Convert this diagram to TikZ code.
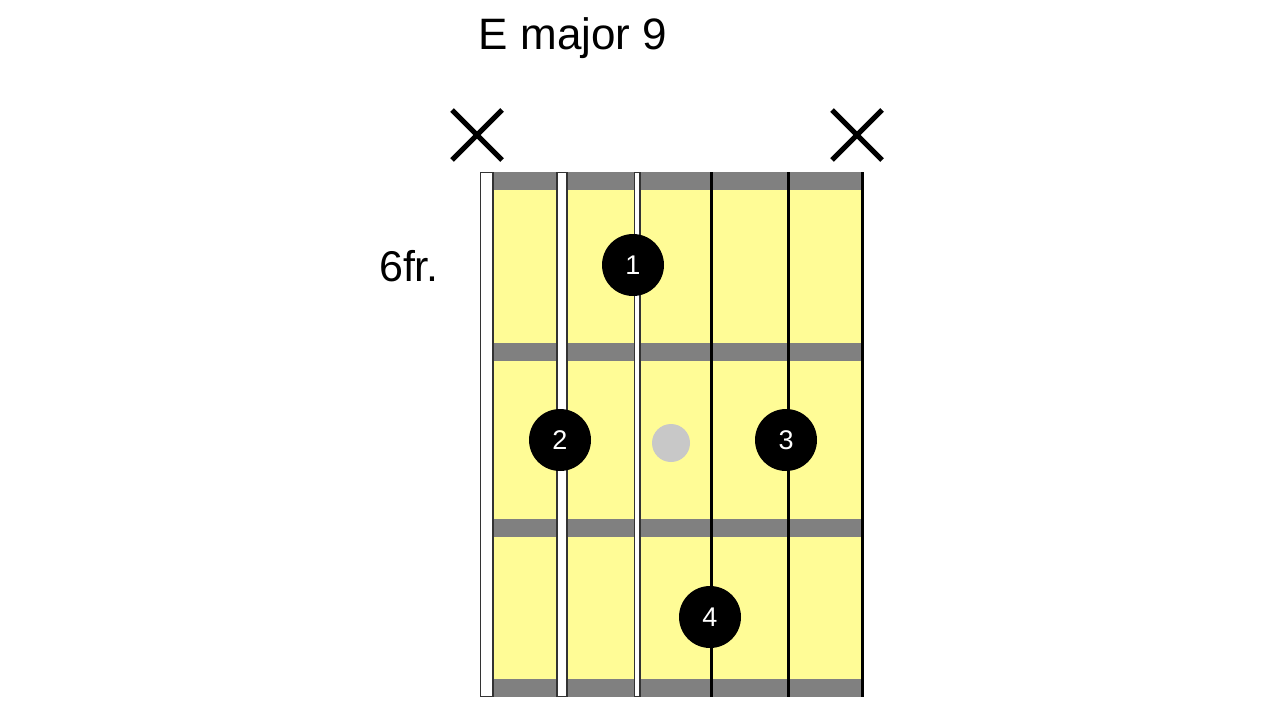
\documentclass[tikz,border=0pt]{standalone}
\usepackage{fontspec}
\setmainfont{Liberation Sans}
\usetikzlibrary{positioning}
\definecolor{neck}{RGB}{255,252,150}
\definecolor{fretgray}{RGB}{128,128,128}
\definecolor{ghost}{RGB}{200,200,200}
\tikzset{
  finger/.style={circle,fill=black,minimum size=62pt,inner sep=0pt,text=white,font=\fontsize{27}{27}\selectfont},
  muted/.style={line width=5pt},
  wound/.style={draw=black!80,line width=1.5pt,fill=white},
}
\begin{document}
\begin{tikzpicture}[x=1pt,y=1pt,yscale=-1]
    \useasboundingbox (0,0) rectangle (1280,720);
    %Shape: neck
    \fill [neck] (487,172) rectangle (863,697);
    %Frets
    \foreach \y in {172,343,519,679}
      \fill [fretgray] (487,\y) rectangle (863,\y+18);
    %Plain strings
    \foreach \x in {711,788,862}
      \draw [line width=3pt] (\x,172) -- (\x,697);
    %Wound strings
    \draw [wound] (480.5,172.5) rectangle (493,696.5);
    \draw [wound] (557,172.5) rectangle (567,696.5);
    \draw [wound,line width=1.2pt] (634.5,172.5) rectangle (640,696.5);
    %Muted strings
    \draw [muted] (452,110) -- (502,160) (452,160) -- (502,110);
    \draw [muted] (832,110) -- (882,160) (832,160) -- (882,110);
    %Ghost note
    \fill [ghost] (671,443) circle (19);

    % Text Node
    \node (title) at (573,38) {\fontsize{44}{44}\selectfont E major 9};
    % Text Node
    \node (fret) at (409,266) {\fontsize{43}{43}\selectfont 6fr.};
    % Fingers
    \node [finger] (f1) at (633,265) {1};
    \node [finger] (f2) at (560,440) {2};
    \node [finger] (f3) at (786,440) {3};
    \node [finger] (f4) at (710,617) {4};
\end{tikzpicture}
\end{document}
